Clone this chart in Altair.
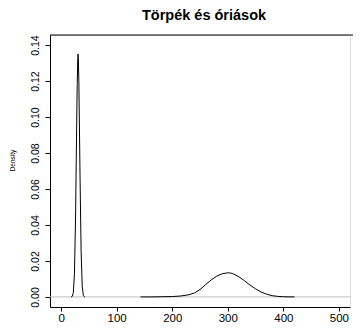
import altair as alt
import pandas as pd

# Dwarfs density
dwarf_x = [18, 20, 22, 24, 26, 28, 29, 30, 30.5, 31, 32, 34, 36, 38, 40, 42, 43]
dwarf_y = [0.0000, 0.0003, 0.0024, 0.0129, 0.0439, 0.0954, 0.118, 0.133, 0.135, 0.133, 0.119,
           0.0683, 0.0251, 0.0059, 0.0009, 0.0001, 0.0000]

# Giants density
giant_x = [143, 160, 180, 200, 215, 230, 240, 250, 260, 270, 280, 290, 300, 305, 310, 320,
           330, 340, 350, 360, 370, 380, 390, 400, 410, 420]
giant_y = [0.0000, 0.0000, 0.0001, 0.0002, 0.0005, 0.0012, 0.0022, 0.0041, 0.0068, 0.0094,
           0.0115, 0.0129, 0.0134, 0.0133, 0.0128, 0.0112, 0.0090, 0.0066, 0.0045, 0.0027,
           0.0015, 0.0007, 0.0003, 0.0001, 0.00003, 0.0000]

x_ticks = [0, 100, 200, 300, 400, 500]
y_ticks = [0.00, 0.02, 0.04, 0.06, 0.08, 0.10, 0.12, 0.14]

df = pd.concat([
    pd.DataFrame({"x": dwarf_x, "y": dwarf_y, "g": "dwarf"}),
    pd.DataFrame({"x": giant_x, "y": giant_y, "g": "giant"}),
])

W, H = 300, 272
PT = 27
FONT = "Liberation Sans"

xs = alt.Scale(domain=[-20, 520], nice=False, zero=False)
ys = alt.Scale(domain=[-0.0056, 0.1456], nice=False, zero=False)

xaxis = alt.Axis(values=x_ticks, title=None, grid=False, tickSize=4, tickColor="black",
                 domainColor="black", labelColor="black", labelFont=FONT, labelFontSize=11.5,
                 labelPadding=1, labelFlush=False)
yaxis = alt.Axis(values=y_ticks, format=".2f", title="Density", grid=False, tickSize=5,
                 tickColor="black", domainColor="black", labelColor="black", labelFont=FONT,
                 labelFontSize=10.5, labelAngle=270, labelAlign="center", labelBaseline="bottom",
                 labelPadding=5, labelFlush=False, titleFont=FONT, titleFontSize=6.5,
                 titleFontWeight="normal", titleColor="black", titleX=-38, titleY=125,
                 titleAngle=270, titleAlign="center", titleBaseline="middle")

zero = alt.Chart(pd.DataFrame({"z": [0]})).mark_rule(color="#bebebe", strokeWidth=1).encode(
    y=alt.Y("z:Q", scale=ys, axis=yaxis)
)

lines = alt.Chart(df).mark_line(color="black", strokeWidth=1).encode(
    x=alt.X("x:Q", scale=xs, axis=xaxis),
    y=alt.Y("y:Q", scale=ys, axis=yaxis),
    detail="g:N",
)

top = alt.Chart(pd.DataFrame({"a": [0]})).mark_rule(color="black", strokeWidth=1).encode(
    x=alt.value(0), x2=alt.value(W + 3), y=alt.value(0)
)

chart = alt.layer(zero, lines, top).properties(
    width=W, height=H,
    title=alt.TitleParams("Törpék és óriások", font=FONT, fontSize=14.5, fontWeight="bold",
                          color="black", anchor="middle", frame="group", offset=11, dx=4),
    autosize=alt.AutoSizeParams(type="none"),
    padding={"left": 42, "top": PT, "right": 3, "bottom": 16},
).configure_view(strokeWidth=0).configure(background="white")

chart.save("out.html", embed_options={"renderer": "svg", "actions": False})
